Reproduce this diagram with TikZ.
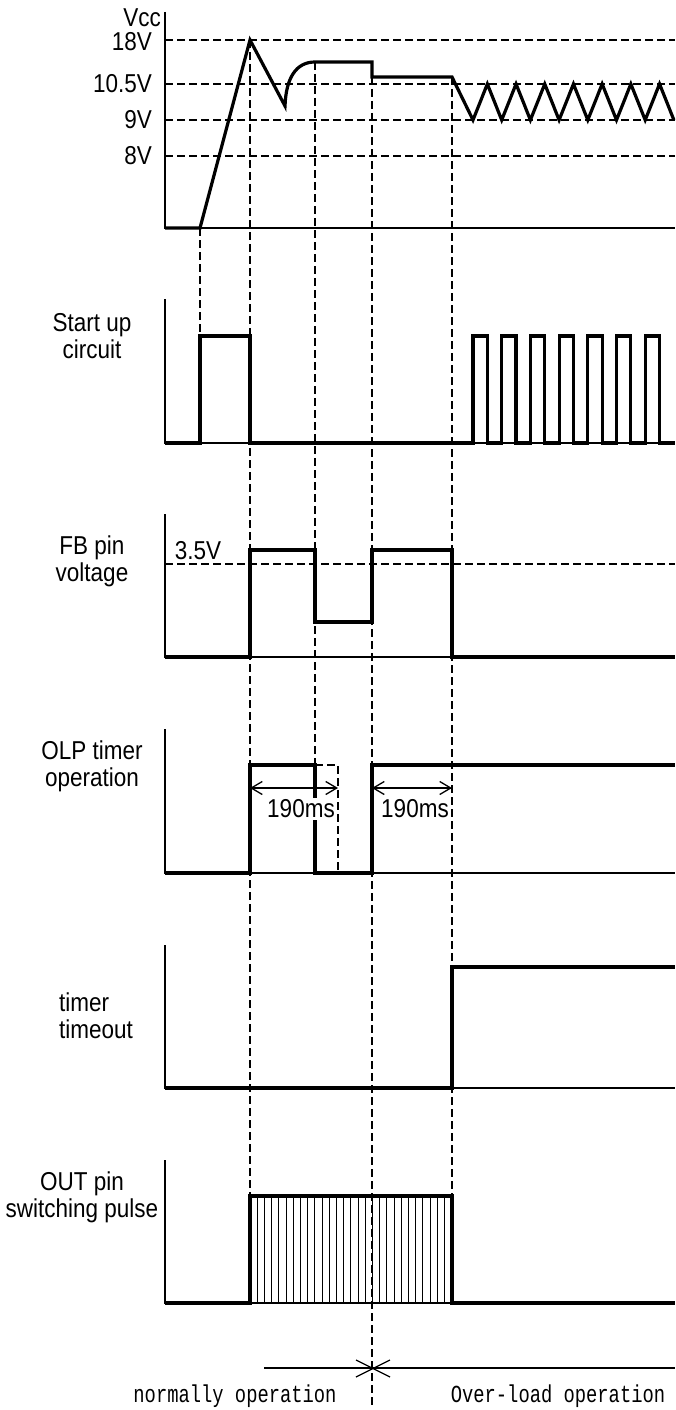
\documentclass[tikz,border=0pt]{standalone}
\usepackage{fontspec}
\usepackage{graphicx}
\setmainfont{Liberation Sans}
\setmonofont{Liberation Mono}
\usetikzlibrary{arrows.meta}
\newcommand\tallt[1]{\scalebox{1}[1.15]{#1}}
\begin{document}
\begin{tikzpicture}[x=1pt,y=-1pt,
  wave/.style={line width=3.2pt,line join=miter},
  axisline/.style={line width=1.3pt},
  guide/.style={line width=1.1pt,dash pattern=on 8pt off 4pt},
  hatch/.style={line width=1pt},
  lbl/.style={font=\fontsize{22.5}{27}\selectfont,inner sep=0pt},
  lvl/.style={font=\fontsize{22.5}{27}\selectfont,inner sep=0pt,anchor=east},
  dim/.style={line width=1.3pt,{Straight Barb[length=11pt,width=13pt]}-{Straight Barb[length=11pt,width=13pt]}},
  mono/.style={font=\ttfamily\fontsize{18.8}{22}\selectfont,inner sep=0pt}]
\useasboundingbox (0,0) rectangle (675,1410);

% ---------- Vcc panel ----------
\draw[axisline] (165,12) -- (165,228) -- (675,228);
\foreach \yy in {40,84,120,156} \draw[guide] (165,\yy) -- (675,\yy);
\node[lvl,anchor=south east] (vcc) at (161,26.5) {\tallt{Vcc}};
\node[lvl] (v18) at (152,42) {\tallt{18V}};
\node[lvl] (v105) at (152,84) {\tallt{10.5V}};
\node[lvl] (v9) at (152,120) {\tallt{9V}};
\node[lvl] (v8) at (152,156) {\tallt{8V}};
\draw[wave] (165,228) -- (200,228) -- (250,40) -- (285,106)
  .. controls (286,78) and (296,62) .. (315,62) -- (372,62) -- (372,77) -- (452,77)
  \foreach \k in {0,...,7} { -- ({473+28.7*\k},120) \ifnum\k<7 -- ({487.35+28.7*\k},84)\fi };

% ---------- Start up circuit ----------
\draw[axisline] (165,299) -- (165,443) -- (675,443);
\node[lbl,align=center] (su) at (92,336) {\tallt{Start up}\\\tallt{circuit}};
\draw[wave] (165,443) -- (200,443) -- (200,336) -- (250,336) -- (250,443) -- (473,443)
  \foreach \k in {0,...,6} { -- ({473+28.7*\k},336) -- ({487.35+28.7*\k},336) -- ({487.35+28.7*\k},443) -- ({501.7+28.7*\k},443) }
  -- (675,443);

% ---------- FB pin voltage ----------
\draw[axisline] (165,514) -- (165,657) -- (675,657);
\draw[guide] (165,564) -- (675,564);
\node[lbl,align=center] (fb) at (92,561) {\tallt{FB pin}\\\tallt{voltage}};
\node[lbl] (v35) at (198,551) {\tallt{3.5V}};
\draw[wave] (165,657) -- (250,657) -- (250,550) -- (315,550) -- (315,622) -- (372,622)
  -- (372,550) -- (452,550) -- (452,657) -- (675,657);

% ---------- OLP timer operation ----------
\draw[axisline] (165,729) -- (165,873) -- (675,873);
\node[lbl,align=center] (olp) at (92,766) {\tallt{OLP timer}\\\tallt{operation}};
\draw[wave] (165,873) -- (250,873) -- (250,765) -- (315,765) -- (315,873) -- (372,873)
  -- (372,765) -- (675,765);
\draw[guide] (315,765) -- (338,765) -- (338,873);
\coordinate (a1) at (250,788); \coordinate (a2) at (338,788);
\coordinate (a3) at (372,788); \coordinate (a4) at (452,788);
\draw[dim] (a1) -- (a2);
\draw[dim] (a3) -- (a4);
\node[lbl,fill=white,inner xsep=1pt,inner ysep=2pt] (t1) at (301,809) {\tallt{190ms}};
\node[lbl,fill=white,inner xsep=1pt,inner ysep=2pt] (t2) at (415,809) {\tallt{190ms}};

% ---------- timer timeout ----------
\draw[axisline] (165,945) -- (165,1088) -- (675,1088);
\node[lbl,align=left,anchor=west] (tt) at (59,1016) {\tallt{timer}\\\tallt{timeout}};
\draw[wave] (165,1088) -- (452,1088) -- (452,967) -- (675,967);

% ---------- OUT pin switching pulse ----------
\draw[axisline] (165,1160) -- (165,1303) -- (675,1303);
\node[lbl,align=center] (out) at (82,1197) {\tallt{OUT pin}\\\tallt{switching pulse}};
\foreach \k in {1,...,27} \draw[hatch] ({250+7.2*\k},1196) -- ({250+7.2*\k},1303);
\draw[wave] (165,1303) -- (250,1303) -- (250,1196) -- (452,1196) -- (452,1303) -- (675,1303);

% ---------- vertical guides ----------
\draw[guide] (200,228) -- (200,336);
\draw[guide] (250,40) -- (250,1196);
\draw[guide] (315,62) -- (315,765);
\draw[guide] (372,77) -- (372,1407);
\draw[guide] (452,77) -- (452,1196);

% ---------- operation regions ----------
\coordinate (b1) at (264,1368); \coordinate (b2) at (675,1368);
\draw[axisline] (b1) -- (b2);
\coordinate (x1) at (356,1360); \coordinate (x2) at (390,1377);
\coordinate (x3) at (356,1377); \coordinate (x4) at (390,1360);
\draw[axisline] (x1) -- (x2);
\draw[axisline] (x3) -- (x4);
\node[mono] (norm) at (235,1396) {\scalebox{1}[1.3]{normally operation}};
\node[mono] (over) at (558,1396) {\scalebox{1}[1.3]{Over-load operation}};
\end{tikzpicture}
\end{document}
